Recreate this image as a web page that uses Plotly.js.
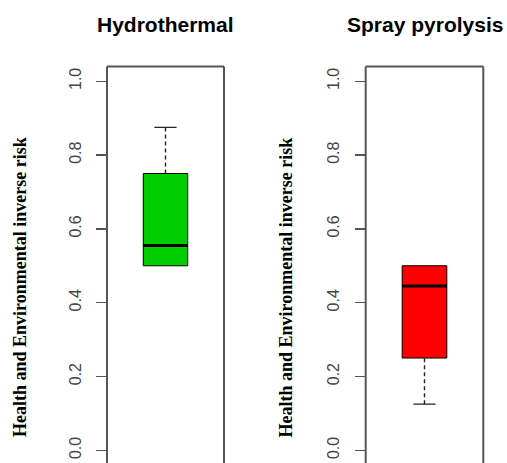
<!DOCTYPE html>
<html>
<head>
<meta charset="utf-8">
<script src="https://cdn.plot.ly/plotly-3.0.1.min.js"></script>
<style>
  html, body { margin: 0; padding: 0; background: #ffffff; }
  #chart { width: 507px; height: 463px; }
</style>
</head>
<body>
<div id="chart"></div>
<script>
// ---- Data ----
const methods = ['Hydrothermal', 'Spray pyrolysis'];
const lowerWhisker = [0.5, 0.125];
const q1 = [0.5, 0.25];
const median = [0.555, 0.445];
const q3 = [0.75, 0.5];
const upperWhisker = [0.875, 0.5];
const yTickValues = [0.0, 0.2, 0.4, 0.6, 0.8, 1.0];
const yTickLabels = ['0.0', '0.2', '0.4', '0.6', '0.8', '1.0'];
const yAxisTitle = 'Health and Environmental inverse risk';

// ---- Styles ----
const boxColors = ['#00CD00', '#FF0000'];
const boxPos = 1;          // single box per panel (R convention)
const boxWidth = 0.41;     // full box width in x units
const capHalf = boxWidth / 4;
const frameColor = '#555555';

const traces = [];
const shapes = [];
const annotations = [];
const layout = {
  width: 507, height: 463,
  margin: {l: 0, r: 0, t: 0, b: 0},
  paper_bgcolor: '#ffffff', plot_bgcolor: '#ffffff',
  showlegend: false,
  font: {family: 'Liberation Sans, Arial, sans-serif', color: '#333333'}
};

const xDomains = [[107/507, 224/507], [365.7/507, 483.3/507]];
const yDomain = [0, (463 - 66.5) / 463];
const yRange = [-0.0344, 1.04];
const yTitleX = [19.5 / 507, 285 / 507];

methods.forEach((m, i) => {
  const xa = i === 0 ? 'x' : 'x' + (i + 1);
  const ya = i === 0 ? 'y' : 'y' + (i + 1);
  const xKey = i === 0 ? 'xaxis' : 'xaxis' + (i + 1);
  const yKey = i === 0 ? 'yaxis' : 'yaxis' + (i + 1);

  // box (no whiskers; R-style dashed whiskers are drawn separately)
  traces.push({
    type: 'box', x: [boxPos], q1: [q1[i]], median: [median[i]], q3: [q3[i]],
    lowerfence: [q1[i]], upperfence: [q3[i]],
    width: boxWidth, whiskerwidth: 0, boxpoints: false,
    fillcolor: boxColors[i], line: {color: '#000000', width: 1},
    name: m, xaxis: xa, yaxis: ya, hoverinfo: 'skip'
  });
  // thick median
  traces.push({
    type: 'scatter', mode: 'lines', xaxis: xa, yaxis: ya, hoverinfo: 'skip',
    x: [boxPos - boxWidth / 2, boxPos + boxWidth / 2], y: [median[i], median[i]],
    line: {color: '#000000', width: 3}
  });
  // upper whisker + cap
  if (upperWhisker[i] > q3[i]) {
    traces.push({
      type: 'scatter', mode: 'lines', xaxis: xa, yaxis: ya, hoverinfo: 'skip',
      x: [boxPos, boxPos], y: [q3[i], upperWhisker[i]],
      line: {color: '#222222', width: 1.4, dash: '4px,3px'}
    });
    traces.push({
      type: 'scatter', mode: 'lines', xaxis: xa, yaxis: ya, hoverinfo: 'skip',
      x: [boxPos - capHalf, boxPos + capHalf], y: [upperWhisker[i], upperWhisker[i]],
      line: {color: '#222222', width: 1.4}
    });
  }
  // lower whisker + cap
  if (lowerWhisker[i] < q1[i]) {
    traces.push({
      type: 'scatter', mode: 'lines', xaxis: xa, yaxis: ya, hoverinfo: 'skip',
      x: [boxPos, boxPos], y: [lowerWhisker[i], q1[i]],
      line: {color: '#222222', width: 1.4, dash: '4px,3px'}
    });
    traces.push({
      type: 'scatter', mode: 'lines', xaxis: xa, yaxis: ya, hoverinfo: 'skip',
      x: [boxPos - capHalf, boxPos + capHalf], y: [lowerWhisker[i], lowerWhisker[i]],
      line: {color: '#222222', width: 1.4}
    });
  }

  layout[xKey] = {
    domain: xDomains[i], anchor: ya, range: [0.46, 1.54],
    showticklabels: false, ticks: '', showgrid: false, zeroline: false,
    showline: false, fixedrange: true
  };
  layout[yKey] = {
    domain: yDomain, anchor: xa, range: yRange,
    tickmode: 'array', tickvals: yTickValues, ticktext: yTickLabels,
    ticks: 'outside', ticklen: 10, tickwidth: 1.5, tickcolor: frameColor,
    tickangle: -90, ticklabelstandoff: 9,
    tickfont: {family: 'Liberation Sans, Arial, sans-serif', size: 16, color: '#444444'},
    showgrid: false, zeroline: false, showline: false, fixedrange: true,
    automargin: false
  };

  // frame (left, right, top; bottom is below the visible area)
  const fr = {type: 'line', xref: xa + ' domain', yref: ya + ' domain', layer: 'above',
              line: {color: frameColor, width: 2}};
  shapes.push(Object.assign({}, fr, {x0: 0, x1: 0, y0: -0.02, y1: 1}));
  shapes.push(Object.assign({}, fr, {x0: 1, x1: 1, y0: -0.02, y1: 1}));
  shapes.push(Object.assign({}, fr, {x0: 0, x1: 1, y0: 1, y1: 1}));

  // panel title
  annotations.push({
    text: m, xref: xa + ' domain', yref: 'paper', x: 0.5, y: 1 - 24.5 / 463,
    xanchor: 'center', yanchor: 'middle', showarrow: false,
    font: {family: 'Liberation Sans, Arial, sans-serif', size: 21, color: '#000000', weight: 'bold'}
  });
  // y-axis title (R places it centred on the full plot region)
  annotations.push({
    text: yAxisTitle, xref: 'paper', yref: 'paper', x: yTitleX[i], y: 1 - 287.5 / 463,
    xanchor: 'center', yanchor: 'middle', showarrow: false, textangle: -90,
    font: {family: 'Liberation Serif, Times New Roman, serif', size: 18, color: '#000000', weight: 'bold'}
  });
});

layout.shapes = shapes;
layout.annotations = annotations;

Plotly.newPlot('chart', traces, layout, {displayModeBar: false, staticPlot: true});
</script>
</body>
</html>
